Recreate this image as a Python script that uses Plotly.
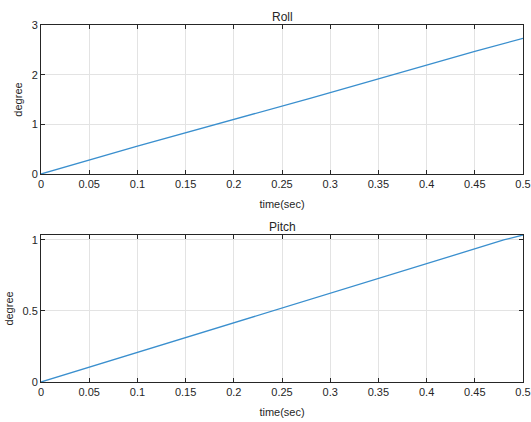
import plotly.graph_objects as go

# Roll data
roll_t = [0, 0.1, 0.28, 0.45, 0.5]
roll_deg = [0, 0.56, 1.53, 2.47, 2.73]
# Pitch data
pitch_t = [0, 0.16, 0.32, 0.48, 0.5]
pitch_deg = [0, 0.335, 0.67, 1.0, 1.035]

x_ticks = [0, 0.05, 0.1, 0.15, 0.2, 0.25, 0.3, 0.35, 0.4, 0.45, 0.5]
x_labels = ["0", "0.05", "0.1", "0.15", "0.2", "0.25", "0.3", "0.35", "0.4", "0.45", "0.5"]
roll_yticks = [0, 1, 2, 3]
pitch_yticks = [0, 0.5, 1]

W, H = 531, 422
line_color = "#3a8fce"
txt = "#262626"
font = dict(family="Liberation Sans, Arial, sans-serif", size=11, color=txt)

fig = go.Figure()
fig.add_trace(go.Scatter(x=roll_t, y=roll_deg, mode="lines",
                         line=dict(color=line_color, width=1.3), xaxis="x", yaxis="y", showlegend=False))
fig.add_trace(go.Scatter(x=pitch_t, y=pitch_deg, mode="lines",
                         line=dict(color=line_color, width=1.3), xaxis="x2", yaxis="y2", showlegend=False))

xd = [41 / W, 523 / W]
top_dom = [1 - 174 / H, 1 - 25 / H]
bot_dom = [1 - 382 / H, 1 - 235 / H]

common_x = dict(range=[0, 0.5], tickvals=x_ticks, ticktext=x_labels, showgrid=True,
                gridcolor="#e3e3e3", gridwidth=1, showline=True, linecolor="#262626",
                linewidth=1, mirror="ticks", ticks="inside", ticklen=4, tickcolor="#262626",
                zeroline=False, tickfont=font, domain=xd, automargin=False,
                title=dict(text="time(sec)", font=font, standoff=11))
common_y = dict(showgrid=True, gridcolor="#e3e3e3", gridwidth=1, showline=True,
                linecolor="#262626", linewidth=1, mirror="ticks", ticks="inside",
                ticklen=4, tickcolor="#262626", zeroline=False, tickfont=font, automargin=False,
                title=dict(text="degree", font=font, standoff=6))

fig.update_layout(
    width=W, height=H, margin=dict(l=0, r=0, t=0, b=0),
    paper_bgcolor="white", plot_bgcolor="white", font=font,
    xaxis=dict(**common_x, anchor="y"),
    yaxis=dict(**common_y, range=[0, 3], tickvals=roll_yticks, domain=top_dom, anchor="x"),
    xaxis2=dict(**common_x, anchor="y2"),
    yaxis2=dict(**common_y, range=[0, 1.035], tickvals=pitch_yticks, domain=bot_dom, anchor="x2"),
    annotations=[
        dict(text="Roll", x=0.5 * (xd[0] + xd[1]), y=1 - 17 / H, xref="paper", yref="paper",
             xanchor="center", yanchor="middle",
             showarrow=False, font=dict(family=font["family"], size=12, color=txt)),
        dict(text="Pitch", x=0.5 * (xd[0] + xd[1]), y=1 - 227 / H, xref="paper", yref="paper",
             xanchor="center", yanchor="middle",
             showarrow=False, font=dict(family=font["family"], size=12, color=txt)),
    ],
)

fig.write_html("out.html")
